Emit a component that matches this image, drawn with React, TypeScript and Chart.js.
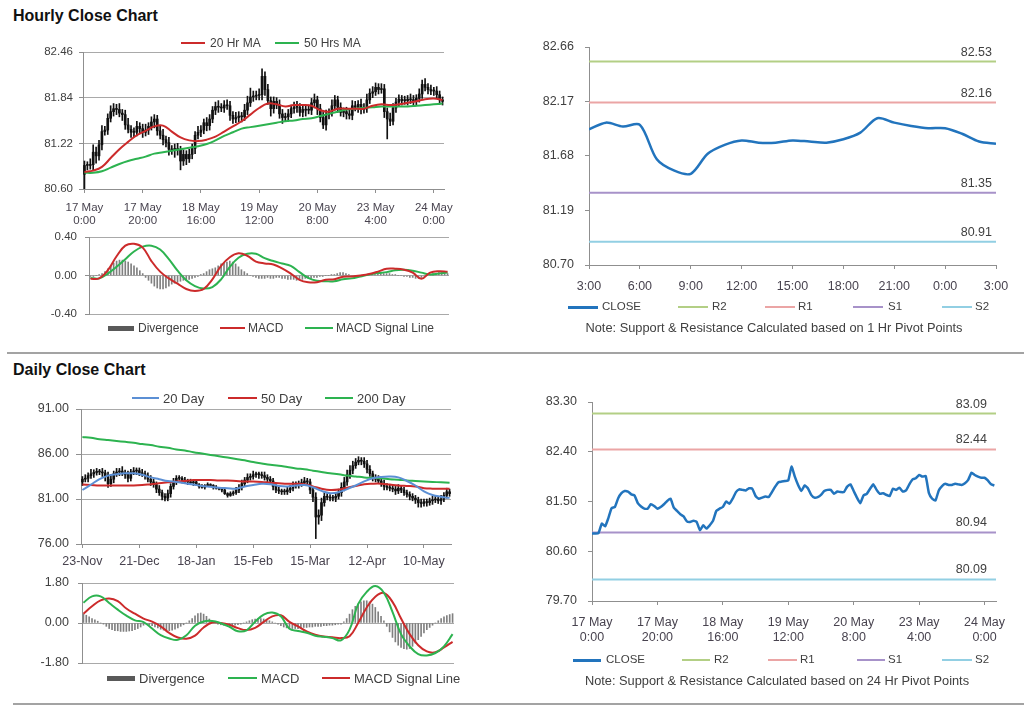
import React, { useEffect, useRef } from "react";
import { Chart, registerables } from "chart.js";

Chart.register(...registerables);

const FONT = "'Liberation Sans', Arial, Helvetica, sans-serif";
Chart.defaults.font.family = FONT;
Chart.defaults.color = "#404040";

// ================= DATA =================
// Hourly close (17 May 0:00 -> 24 May 3:00), one value per hour
const hourlyClose = [
  80.92, 80.92, 80.93, 81.10, 81.05, 81.20, 81.38, 81.40, 81.56, 81.65,
  81.69, 81.68, 81.63, 81.61, 81.47, 81.41, 81.37, 81.37, 81.45, 81.42,
  81.37, 81.40, 81.45, 81.51, 81.55, 81.39, 81.33, 81.27, 81.23, 81.14,
  81.13, 81.15, 81.13, 80.98, 81.07, 81.01, 81.07, 81.15, 81.33, 81.37,
  81.40, 81.50, 81.46, 81.55, 81.67, 81.72, 81.71, 81.70, 81.74, 81.73,
  81.60, 81.55, 81.57, 81.59, 81.58, 81.67, 81.77, 81.85, 81.86, 81.87,
  81.88, 82.13, 81.95, 81.80, 81.69, 81.79, 81.74, 81.62, 81.57, 81.58,
  81.62, 81.69, 81.71, 81.71, 81.64, 81.68, 81.67, 81.67, 81.77, 81.81,
  81.69, 81.57, 81.47, 81.61, 81.64, 81.73, 81.81, 81.71, 81.64, 81.65,
  81.62, 81.60, 81.73, 81.71, 81.75, 81.68, 81.70, 81.81, 81.90, 81.92,
  81.98, 81.95, 81.96, 81.65, 81.55, 81.52, 81.70, 81.78, 81.82, 81.80,
  81.80, 81.82, 81.81, 81.80, 81.83, 81.89, 82.02, 81.98, 81.95, 81.93,
  81.93, 81.88, 81.81, 81.79,
];
const hourlyFirstOpen = 80.80;
const hourlyUpperWick = [
  0.06, 0.05, 0.08, 0.10, 0.07, 0.06, 0.08, 0.05, 0.06, 0.08,
  0.07, 0.06, 0.08, 0.05, 0.06, 0.09, 0.05, 0.06, 0.07, 0.05,
  0.06, 0.08, 0.05, 0.07, 0.06, 0.05, 0.06, 0.08, 0.05, 0.07,
  0.05, 0.06, 0.07, 0.05, 0.06, 0.05, 0.07, 0.06, 0.05, 0.08,
  0.06, 0.05, 0.07, 0.06, 0.05, 0.06, 0.08, 0.05, 0.06, 0.07,
  0.06, 0.05, 0.07, 0.06, 0.05, 0.08, 0.09, 0.12, 0.07, 0.06,
  0.08, 0.10, 0.06, 0.07, 0.05, 0.06, 0.05, 0.07, 0.06, 0.05,
  0.06, 0.05, 0.07, 0.08, 0.05, 0.06, 0.05, 0.07, 0.06, 0.08,
  0.05, 0.06, 0.07, 0.06, 0.05, 0.08, 0.06, 0.05, 0.06, 0.05,
  0.06, 0.05, 0.07, 0.06, 0.05, 0.07, 0.06, 0.08, 0.06, 0.07,
  0.06, 0.05, 0.07, 0.06, 0.05, 0.08, 0.06, 0.05, 0.06, 0.05,
  0.06, 0.05, 0.07, 0.06, 0.05, 0.07, 0.06, 0.08, 0.05, 0.06,
  0.05, 0.06, 0.05, 0.04,
];
const hourlyLowerWick = [
  0.20, 0.06, 0.05, 0.08, 0.10, 0.06, 0.07, 0.05, 0.06, 0.05,
  0.06, 0.07, 0.05, 0.08, 0.06, 0.05, 0.07, 0.06, 0.05, 0.06,
  0.07, 0.05, 0.06, 0.05, 0.08, 0.06, 0.05, 0.07, 0.06, 0.08,
  0.06, 0.10, 0.07, 0.12, 0.06, 0.08, 0.05, 0.06, 0.07, 0.05,
  0.06, 0.05, 0.07, 0.06, 0.05, 0.06, 0.07, 0.05, 0.06, 0.05,
  0.07, 0.06, 0.05, 0.06, 0.07, 0.05, 0.06, 0.05, 0.06, 0.05,
  0.06, 0.07, 0.08, 0.05, 0.10, 0.06, 0.05, 0.06, 0.08, 0.05,
  0.06, 0.05, 0.06, 0.07, 0.05, 0.06, 0.08, 0.05, 0.06, 0.07,
  0.08, 0.06, 0.05, 0.07, 0.06, 0.05, 0.06, 0.07, 0.05, 0.06,
  0.07, 0.05, 0.06, 0.05, 0.07, 0.06, 0.05, 0.06, 0.05, 0.06,
  0.05, 0.06, 0.05, 0.08, 0.27, 0.06, 0.05, 0.06, 0.05, 0.06,
  0.05, 0.06, 0.05, 0.06, 0.07, 0.05, 0.06, 0.05, 0.06, 0.05,
  0.06, 0.05, 0.06, 0.05,
];
const hourlyTickIndex = [0, 20, 40, 60, 80, 100, 120];
const hourlyTickLabels = [
  ["17 May", "0:00"], ["17 May", "20:00"], ["18 May", "16:00"], ["19 May", "12:00"],
  ["20 May", "8:00"], ["23 May", "4:00"], ["24 May", "0:00"],
];
const hourlyPriceTicks = [80.60, 81.22, 81.84, 82.46];
// moving averages, read every 3rd hour
const HOURLY_STEP = 3;
const hourlyMA20 = [
  80.83, 80.85, 80.90, 81.02, 81.14, 81.24, 81.33, 81.39, 81.45, 81.46,
  81.38, 81.30, 81.26, 81.25, 81.27, 81.31, 81.38, 81.45, 81.52, 81.61,
  81.70, 81.76, 81.75, 81.72, 81.74, 81.74, 81.73, 81.67, 81.65, 81.69,
  81.69, 81.69, 81.69, 81.73, 81.75, 81.74, 81.75, 81.77, 81.79, 81.82,
  81.83, 81.81,
];
const hourlyMA50 = [
  80.82, 80.82, 80.84, 80.89, 80.94, 80.98, 81.01, 81.04, 81.08, 81.10,
  81.12, 81.14, 81.16, 81.18, 81.21, 81.26, 81.32, 81.37, 81.42, 81.44,
  81.46, 81.48, 81.50, 81.52, 81.53, 81.55, 81.56, 81.59, 81.62, 81.65,
  81.68, 81.69, 81.70, 81.71, 81.72, 81.72, 81.72, 81.72, 81.73, 81.74,
  81.75, 81.76,
];
const hourlyMacd = [
  -0.035, -0.03, 0.055, 0.20, 0.31, 0.33, 0.29, 0.15, 0.04, -0.03,
  -0.085, -0.14, -0.16, -0.14, -0.04, 0.10, 0.19, 0.23, 0.205, 0.145,
  0.125, 0.115, 0.075, 0.02, -0.045, -0.07, -0.07, -0.045, -0.04, -0.013,
  -0.01, 0.00, 0.015, 0.04, 0.07, 0.07, 0.06, 0.03, -0.035, 0.03,
  0.045, 0.04,
];
const hourlySignal = [
  -0.025, -0.03, 0.02, 0.09, 0.17, 0.25, 0.30, 0.31, 0.27, 0.17,
  0.05, -0.05, -0.11, -0.135, -0.12, -0.04, 0.09, 0.185, 0.225, 0.225,
  0.18, 0.15, 0.125, 0.10, 0.035, -0.025, -0.055, -0.06, -0.06, -0.04,
  -0.03, -0.01, 0.01, 0.025, 0.035, 0.055, 0.06, 0.05, 0.03, 0.01,
  0.02, 0.03,
];
const hourlyDivergence = [
  -0.01, -0.01, 0.00, 0.01, 0.02, 0.04, 0.07, 0.10, 0.13, 0.15,
  0.16, 0.16, 0.15, 0.14, 0.12, 0.10, 0.08, 0.05, 0.02, -0.02,
  -0.05, -0.08, -0.11, -0.13, -0.14, -0.14, -0.13, -0.11, -0.09, -0.08,
  -0.07, -0.06, -0.05, -0.05, -0.04, -0.03, -0.02, -0.01, 0.01, 0.02,
  0.04, 0.06, 0.07, 0.08, 0.10, 0.12, 0.13, 0.14, 0.15, 0.14,
  0.12, 0.09, 0.06, 0.04, 0.02, 0.00, -0.01, -0.02, -0.03, -0.03,
  -0.03, -0.02, -0.03, -0.03, -0.02, -0.02, -0.03, -0.03, -0.04, -0.04,
  -0.04, -0.05, -0.04, -0.04, -0.03, -0.03, -0.03, -0.02, -0.02, -0.01,
  -0.01, 0.00, 0.00, 0.01, 0.01, 0.02, 0.03, 0.03, 0.02, 0.01,
  -0.01, -0.02, -0.02, -0.01, 0.00, 0.00, 0.01, 0.01, 0.01, 0.02,
  0.02, 0.02, 0.02, 0.02, 0.01, 0.01, 0.00, 0.00, -0.01, -0.01,
  -0.02, -0.02, -0.03, -0.03, -0.02, -0.01, 0.00, 0.01, 0.02, 0.02,
  0.03, 0.03, 0.02, 0.02,
];
const hourlyMacdTicks = [-0.4, 0, 0.4];

// Hourly pivot panel (last 24 hours, 3:00 -> 3:00)
const pivotHourClose = [
  81.92, 81.98, 81.945, 81.96, 81.65, 81.55, 81.52, 81.70, 81.78, 81.82,
  81.80, 81.80, 81.82, 81.81, 81.80, 81.83, 81.89, 82.02, 81.98, 81.95,
  81.93, 81.93, 81.88, 81.81, 81.79,
];
const pivotHourTickIndex = [0, 3, 6, 9, 12, 15, 18, 21, 24];
const pivotHourLabels = ["3:00", "6:00", "9:00", "12:00", "15:00", "18:00", "21:00", "0:00", "3:00"];
const pivotHourYTicks = [80.70, 81.19, 81.68, 82.17, 82.66];
const pivotNames = ["R2", "R1", "S1", "S2"];
const hourlyPivotLevels = [82.53, 82.16, 81.35, 80.91];

// Daily candles (23-Nov -> 24-May), one value per trading day
const dailyClose = [
  83.2, 83.3, 83.6, 83.8, 83.95, 84.0, 84.0, 83.9, 83.5, 82.7,
  83.2, 83.8, 84.0, 84.1, 83.9, 83.7, 83.3, 84.0, 84.1, 84.15,
  83.9, 83.8, 83.6, 83.2, 82.9, 82.6, 82.1, 81.7, 81.3, 81.1,
  81.6, 82.4, 82.9, 83.3, 83.3, 83.1, 83.0, 82.9, 82.8, 82.9,
  82.6, 82.4, 82.3, 82.5, 82.6, 82.5, 82.3, 82.2, 82.1, 82.0,
  81.6, 81.4, 81.6, 81.7, 82.0, 82.3, 82.7, 83.1, 83.4, 83.5,
  83.7, 83.7, 83.7, 83.6, 83.4, 83.2, 83.0, 82.4, 82.0, 81.9,
  81.8, 81.8, 82.0, 82.2, 82.5, 82.6, 82.7, 82.8, 83.0, 82.9,
  82.0, 81.2, 79.0, 79.2, 80.6, 81.3, 81.2, 81.1, 81.1, 81.3,
  81.7, 82.3, 82.9, 83.7, 84.2, 84.7, 85.1, 85.3, 85.2, 84.9,
  84.3, 83.8, 83.4, 83.2, 83.0, 82.7, 82.4, 82.3, 82.2, 82.1,
  81.9, 82.2, 82.0, 81.7, 81.5, 81.3, 81.1, 80.9, 80.6, 80.5,
  80.7, 80.6, 80.8, 80.9, 81.0, 80.8, 81.0, 81.4, 81.8, 81.6,
];
const dailyFirstOpen = 82.9;
const dailyUpperWick = [
  0.3, 0.4, 0.3, 0.5, 0.3, 0.4, 0.3, 0.4, 0.3, 0.5,
  0.4, 0.3, 0.4, 0.3, 0.5, 0.3, 0.4, 0.3, 0.4, 0.3,
  0.3, 0.4, 0.3, 0.3, 0.4, 0.3, 0.3, 0.4, 0.3, 0.3,
  0.4, 0.3, 0.4, 0.3, 0.3, 0.2, 0.3, 0.2, 0.3, 0.2,
  0.2, 0.1, 0.2, 0.1, 0.2, 0.1, 0.1, 0.2, 0.1, 0.1,
  0.2, 0.1, 0.2, 0.2, 0.3, 0.3, 0.4, 0.3, 0.4, 0.3,
  0.4, 0.3, 0.3, 0.3, 0.4, 0.3, 0.3, 0.3, 0.2, 0.3,
  0.2, 0.3, 0.3, 0.3, 0.4, 0.3, 0.3, 0.4, 0.4, 0.3,
  0.3, 0.4, 0.5, 0.6, 0.5, 0.4, 0.3, 0.3, 0.3, 0.4,
  0.4, 0.5, 0.5, 0.5, 0.5, 0.5, 0.4, 0.4, 0.3, 0.4,
  0.4, 0.4, 0.3, 0.3, 0.4, 0.3, 0.4, 0.3, 0.3, 0.4,
  0.3, 0.4, 0.3, 0.3, 0.3, 0.3, 0.3, 0.3, 0.3, 0.4,
  0.3, 0.3, 0.3, 0.4, 0.3, 0.3, 0.4, 0.3, 0.4, 0.3,
];
const dailyLowerWick = [
  0.4, 0.3, 0.4, 0.3, 0.4, 0.3, 0.3, 0.4, 0.5, 0.4,
  0.3, 0.4, 0.3, 0.4, 0.3, 0.4, 0.4, 0.3, 0.3, 0.4,
  0.3, 0.3, 0.4, 0.3, 0.4, 0.3, 0.4, 0.3, 0.4, 0.3,
  0.3, 0.4, 0.3, 0.3, 0.2, 0.3, 0.2, 0.3, 0.2, 0.3,
  0.1, 0.2, 0.1, 0.2, 0.1, 0.1, 0.2, 0.1, 0.1, 0.2,
  0.1, 0.2, 0.1, 0.2, 0.2, 0.3, 0.3, 0.3, 0.3, 0.3,
  0.3, 0.3, 0.4, 0.3, 0.3, 0.3, 0.3, 0.4, 0.3, 0.3,
  0.3, 0.3, 0.3, 0.3, 0.3, 0.3, 0.4, 0.3, 0.3, 0.3,
  0.4, 0.5, 2.4, 0.8, 0.6, 0.4, 0.3, 0.3, 0.3, 0.4,
  0.3, 0.4, 0.4, 0.4, 0.4, 0.4, 0.3, 0.3, 0.4, 0.4,
  0.4, 0.3, 0.4, 0.3, 0.3, 0.3, 0.4, 0.3, 0.3, 0.3,
  0.4, 0.3, 0.3, 0.3, 0.3, 0.4, 0.3, 0.4, 0.5, 0.4,
  0.3, 0.4, 0.3, 0.4, 0.3, 0.3, 0.4, 0.3, 0.3, 0.3,
];
const dailyTickIndex = [0, 20, 40, 60, 80, 100, 120];
const dailyTickLabels = ["23-Nov", "21-Dec", "18-Jan", "15-Feb", "15-Mar", "12-Apr", "10-May"];
const dailyPriceTicks = [76, 81, 86, 91];
const DAILY_STEP = 3;
const dailyMA20 = [
  82.0, 82.6, 83.2, 83.6, 83.75, 83.85, 83.85, 83.7, 83.4, 83.2,
  83.0, 82.9, 82.75, 82.6, 82.45, 82.35, 82.25, 82.2, 82.15, 82.4,
  82.55, 82.7, 82.65, 82.45, 82.4, 82.5, 82.55, 82.3, 81.9, 81.65,
  81.75, 82.1, 82.5, 82.95, 83.3, 83.45, 83.5, 83.4, 83.0, 82.5,
  81.85, 81.45, 81.25, 81.1,
];
const dailyMA50 = [
  82.6, 82.55, 82.5, 82.5, 82.5, 82.5, 82.5, 82.55, 82.65, 82.75,
  82.85, 82.95, 83.0, 83.1, 83.1, 83.1, 83.05, 83.05, 83.0, 82.95,
  82.95, 82.9, 82.8, 82.75, 82.7, 82.7, 82.65, 82.4, 82.15, 82.0,
  82.05, 82.25, 82.45, 82.65, 82.7, 82.7, 82.6, 82.5, 82.45, 82.4,
  82.2, 82.15, 82.15, 82.15,
];
const dailyMA200 = [
  87.9, 87.8, 87.65, 87.55, 87.45, 87.35, 87.25, 87.1, 87.0, 86.8,
  86.7, 86.5, 86.4, 86.2, 86.05, 85.9, 85.75, 85.6, 85.45, 85.3,
  85.1, 84.95, 84.8, 84.7, 84.55, 84.4, 84.3, 84.15, 84.0, 83.85,
  83.75, 83.6, 83.5, 83.4, 83.35, 83.3, 83.2, 83.15, 83.05, 83.0,
  82.95, 82.9, 82.85, 82.8,
];
const dailyMacd = [
  0.91, 1.2, 1.2, 0.9, 0.6, 0.33, 0.12, 0.04, -0.25, -0.55,
  -0.7, -0.76, -0.55, -0.12, 0.07, 0.09, -0.01, -0.17, -0.37, -0.33,
  0.06, 0.38, 0.47, 0.3, -0.26, -0.36, -0.44, -0.57, -0.62, -0.68,
  -0.78, -0.3, 0.85, 1.4, 1.66, 1.36, 0.5, -0.5, -1.05, -1.4,
  -1.46, -1.35, -1.05, -0.5,
];
const dailySignal = [
  0.42, 0.75, 1.02, 1.1, 0.98, 0.65, 0.42, 0.2, 0.06, -0.15,
  -0.45, -0.65, -0.71, -0.57, -0.2, 0.02, 0.0, -0.08, -0.23, -0.32,
  -0.22, 0.05, 0.3, 0.35, 0.05, -0.15, -0.38, -0.53, -0.61, -0.64,
  -0.68, -0.6, 0.0, 0.7, 1.18, 1.35, 0.95, 0.2, -0.5, -1.0,
  -1.28, -1.32, -1.1, -0.85,
];
const dailyDivergence = [
  0.40, 0.35, 0.28, 0.20, 0.14, 0.08, 0.00, -0.05,
  -0.15, -0.25, -0.30, -0.35, -0.35, -0.38, -0.38, -0.38, -0.36, -0.34, -0.30, -0.25, -0.18,
  -0.10, -0.05, -0.08, -0.12,
  -0.18, -0.22, -0.28, -0.32, -0.35, -0.35, -0.32, -0.28, -0.22, -0.15,
  -0.08, 0.00, 0.10,
  0.20, 0.32, 0.42, 0.45, 0.40, 0.30, 0.18,
  0.08, 0.00, -0.05,
  -0.08, -0.10, -0.12, -0.12, -0.12, -0.10, -0.08, -0.05, 0.00, 0.05,
  0.10, 0.15, 0.18, 0.20, 0.20, 0.18, 0.15, 0.10, 0.05, 0.00, -0.05,
  -0.12, -0.18, -0.22, -0.25, -0.25, -0.25, -0.25, -0.22, -0.20, -0.20, -0.18,
  -0.18, -0.15, -0.15, -0.15, -0.12, -0.12, -0.10, -0.10, -0.08, -0.05, -0.05,
  0.05, 0.20, 0.40, 0.60, 0.75, 0.85, 0.95, 1.00, 1.00, 0.95, 0.85, 0.70, 0.50, 0.30, 0.10,
  -0.15, -0.40, -0.65, -0.85, -1.00, -1.10, -1.15, -1.18, -1.15, -1.05, -0.90, -0.75, -0.60,
  -0.45, -0.30, -0.20, -0.10, 0.00,
  0.10, 0.20, 0.28, 0.33, 0.38, 0.42,
];
const dailyMacdTicks = [-1.8, 0, 1.8];

// Daily pivot panel uses the hourly closes
const pivotDayYTicks = [79.70, 80.60, 81.50, 82.40, 83.30];
const dailyPivotLevels = [83.09, 82.44, 80.94, 80.09];

// ================= STYLE =================
const GRID = "#a9a9a9";
const AXIS = "#8f8f8f";
const TEXT = "#404040";
const RED = "#cc2b2b";
const GREEN = "#2db350";
const BLUE_MA = "#5b8fd4";
const CLOSE_BLUE = "#2274bd";
const PIVOT_COLORS = ["#b3cf85", "#eba5a5", "#a792c9", "#92cfe3"];
const DIV_GRAY = "#808080";

type Frame = { left: number; top: number; width: number; height: number; yw: number; pt: number; pr: number; pb: number; xh: number };
function mkFrame(L: number, T: number, R: number, B: number, yw: number, pt: number, pr: number, xh: number, pb = 0): Frame {
  return { left: L - yw, top: T - pt, width: R - L + yw + pr, height: B - T + pt + xh + pb, yw, pt, pr, pb, xh };
}

const fixedTicks = (values: number[]) => (scale: any) => {
  scale.ticks = values.map((v) => ({ value: v }));
};

function yScale(f: Frame, ticks: number[], size: number, tickLength: number, padding: number, gridOn: boolean) {
  return {
    type: "linear",
    position: "left",
    min: ticks[0],
    max: ticks[ticks.length - 1],
    afterBuildTicks: fixedTicks(ticks),
    afterFit: (s: any) => { s.width = f.yw; },
    ticks: {
      autoSkip: false,
      padding,
      color: TEXT,
      font: { size, family: FONT },
      callback: (v: any) => Number(v).toFixed(2),
    },
    grid: { display: true, drawOnChartArea: gridOn, color: GRID, lineWidth: 1, drawTicks: true, tickLength, tickColor: AXIS },
    border: { display: true, color: AXIS, width: 1 },
  };
}

function xScale(f: Frame, min: number, max: number, tickIdx: number[], labels: any[], size: number, padding: number, lineHeight: number) {
  return {
    type: "linear",
    position: "bottom",
    min,
    max,
    offset: false,
    afterBuildTicks: fixedTicks(tickIdx),
    afterFit: (s: any) => { s.height = f.xh; },
    ticks: {
      autoSkip: false,
      maxRotation: 0,
      minRotation: 0,
      padding,
      color: "#48434f",
      font: { size, family: FONT, lineHeight },
      callback: (_v: any, i: number) => labels[i],
    },
    grid: { display: true, drawOnChartArea: false, drawTicks: true, tickLength: 4, tickColor: AXIS, offset: false },
    border: { display: true, color: AXIS, width: 1 },
  };
}

const hiddenX = (min: number, max: number) => ({ type: "linear", display: false, min, max, offset: false, grid: { offset: false } });

function baseOptions(f: Frame, scales: any, extraPlugins: any = {}) {
  return {
    responsive: false,
    maintainAspectRatio: false,
    animation: false,
    events: [],
    layout: { padding: { left: 0, top: f.pt, right: f.pr, bottom: f.pb } },
    plugins: { legend: { display: false }, tooltip: { enabled: false }, title: { display: false }, ...extraPlugins },
    scales,
  };
}

const stepped = (values: number[], step: number) => values.map((v, k) => ({ x: k * step, y: v }));
const lineDs = (data: any[], color: string, width = 2, tension = 0.4) => ({
  type: "line", data, borderColor: color, borderWidth: width, pointRadius: 0, fill: false, tension, order: 0,
});

function candleDatasets(close: number[], firstOpen: number, up: number[], low: number[]) {
  const opens = close.map((_c, i) => (i === 0 ? firstOpen : close[i - 1]));
  const wick = close.map((c, i) => ({
    x: i,
    y: [Math.min(opens[i], c) - low[i], Math.max(opens[i], c) + up[i]],
  }));
  const body = close.map((c, i) => ({ x: i, y: [opens[i], c] }));
  return [
    { type: "bar", data: wick, backgroundColor: "#111", barThickness: 1, grouped: false, order: 2 },
    { type: "bar", data: body, backgroundColor: "#111", barThickness: 2, grouped: false, minBarLength: 1, order: 1 },
  ];
}

const pivotLabelPlugin = {
  id: "pivotLabels",
  afterDatasetsDraw(chart: any, _args: any, opts: any) {
    if (!opts || !opts.values) return;
    const { ctx, chartArea } = chart;
    const ys = chart.scales.y;
    ctx.save();
    ctx.font = `${opts.size}px ${FONT}`;
    ctx.fillStyle = TEXT;
    ctx.textAlign = "right";
    ctx.textBaseline = "middle";
    for (const v of opts.values) {
      ctx.fillText(Number(v).toFixed(2), chartArea.right - opts.inset, ys.getPixelForValue(v) - opts.lift);
    }
    ctx.restore();
  },
};

// ================= FRAMES =================
const FA = mkFrame(83, 52, 444, 189, 45, 14, 20, 42);
const FB = mkFrame(89, 237, 449, 314, 50, 16, 6, 0, 16);
const FC = mkFrame(589, 47, 996, 265, 60, 20, 26, 32);
const FD = mkFrame(81, 409, 451, 544, 50, 16, 12, 30);
const FE = mkFrame(82, 583, 454, 663, 55, 18, 6, 0, 18);
const FF = mkFrame(592, 402, 996, 601, 60, 20, 22, 48);

const NH = hourlyClose.length;
const ND = dailyClose.length;

function configA() {
  return {
    type: "bar",
    data: {
      datasets: [
        lineDs(stepped(hourlyMA20, HOURLY_STEP), RED),
        lineDs(stepped(hourlyMA50, HOURLY_STEP), GREEN),
        ...candleDatasets(hourlyClose, hourlyFirstOpen, hourlyUpperWick, hourlyLowerWick),
      ],
    },
    options: baseOptions(FA, {
      x: xScale(FA, -0.5, NH - 0.5, hourlyTickIndex, hourlyTickLabels, 11.5, 9, 1.1),
      y: yScale(FA, hourlyPriceTicks, 11.5, 4, 6, true),
    }),
  };
}

function configB() {
  return {
    type: "bar",
    data: {
      datasets: [
        lineDs(stepped(hourlyMacd, HOURLY_STEP), RED),
        lineDs(stepped(hourlySignal, HOURLY_STEP), GREEN),
        { type: "bar", data: hourlyDivergence.map((v, i) => ({ x: i, y: v })), backgroundColor: DIV_GRAY, barThickness: 1, order: 1 },
      ],
    },
    options: baseOptions(FB, {
      x: hiddenX(-0.5, NH - 0.5),
      y: yScale(FB, hourlyMacdTicks, 11.5, 4, 8, true),
    }),
  };
}

function configC() {
  const last = pivotHourClose.length - 1;
  return {
    type: "line",
    data: {
      datasets: [
        lineDs(pivotHourClose.map((v, i) => ({ x: i, y: v })), CLOSE_BLUE, 2.5, 0.3),
        ...hourlyPivotLevels.map((lv, k) => ({
          ...lineDs([{ x: 0, y: lv }, { x: last, y: lv }], PIVOT_COLORS[k], 2, 0),
          label: pivotNames[k],
        })),
      ],
    },
    plugins: [pivotLabelPlugin],
    options: baseOptions(
      FC,
      {
        x: xScale(FC, 0, last, pivotHourTickIndex, pivotHourLabels, 12.5, 10, 1.2),
        y: yScale(FC, pivotHourYTicks, 12.5, 4, 11, false),
      },
      { pivotLabels: { values: hourlyPivotLevels, inset: 4, lift: 9, size: 12.5 } }
    ),
  };
}

function configD() {
  return {
    type: "bar",
    data: {
      datasets: [
        lineDs(stepped(dailyMA20, DAILY_STEP), BLUE_MA),
        lineDs(stepped(dailyMA50, DAILY_STEP), RED),
        lineDs(stepped(dailyMA200, DAILY_STEP), GREEN),
        ...candleDatasets(dailyClose, dailyFirstOpen, dailyUpperWick, dailyLowerWick),
      ],
    },
    options: baseOptions(FD, {
      x: xScale(FD, -0.5, ND - 0.5, dailyTickIndex, dailyTickLabels, 12.5, 6, 1.2),
      y: yScale(FD, dailyPriceTicks, 12.5, 5, 7, true),
    }),
  };
}

function configE() {
  return {
    type: "bar",
    data: {
      datasets: [
        lineDs(stepped(dailyMacd, DAILY_STEP), GREEN),
        lineDs(stepped(dailySignal, DAILY_STEP), RED),
        { type: "bar", data: dailyDivergence.map((v, i) => ({ x: i, y: v })), backgroundColor: DIV_GRAY, barThickness: 1, order: 1 },
      ],
    },
    options: baseOptions(FE, {
      x: hiddenX(-0.5, ND - 0.5),
      y: yScale(FE, dailyMacdTicks, 12.5, 4, 9, true),
    }),
  };
}

function configF() {
  const xmax = NH - 0.5;
  return {
    type: "line",
    data: {
      datasets: [
        lineDs(hourlyClose.map((v, i) => ({ x: i, y: v })), CLOSE_BLUE, 2.5, 0.15),
        ...dailyPivotLevels.map((lv, k) => ({
          ...lineDs([{ x: 0, y: lv }, { x: xmax, y: lv }], PIVOT_COLORS[k], 2, 0),
          label: pivotNames[k],
        })),
      ],
    },
    plugins: [pivotLabelPlugin],
    options: baseOptions(
      FF,
      {
        x: xScale(FF, 0, xmax, hourlyTickIndex, hourlyTickLabels, 12.5, 10, 1.2),
        y: yScale(FF, pivotDayYTicks, 12.5, 4, 11, false),
      },
      { pivotLabels: { values: dailyPivotLevels, inset: 9, lift: 9.5, size: 12.5 } }
    ),
  };
}

// ================= COMPONENTS =================
function ChartBox({ frame, build }: { frame: Frame; build: () => any }) {
  const ref = useRef<HTMLCanvasElement | null>(null);
  useEffect(() => {
    const chart = new Chart(ref.current as HTMLCanvasElement, build() as any);
    return () => chart.destroy();
  }, []);
  return (
    <canvas
      ref={ref}
      width={frame.width}
      height={frame.height}
      style={{ position: "absolute", left: frame.left, top: frame.top, width: frame.width, height: frame.height }}
    />
  );
}

function Swatch({ x1, x2, y, color, h = 2 }: { x1: number; x2: number; y: number; color: string; h?: number }) {
  return <div style={{ position: "absolute", left: x1, top: y - h / 2, width: x2 - x1, height: h, background: color }} />;
}

function Txt({ x, y, text, size, bold = false, color = TEXT, center = false }: any) {
  return (
    <div
      style={{
        position: "absolute",
        left: x,
        top: y,
        transform: center ? "translate(-50%, -50%)" : "translateY(-50%)",
        fontSize: size,
        fontWeight: bold ? "bold" : "normal",
        lineHeight: 1,
        whiteSpace: "nowrap",
        color,
        fontFamily: FONT,
      }}
    >
      {text}
    </div>
  );
}

function PivotLegend({ y, items }: { y: number; items: [number, number, number, string, string, number][] }) {
  return (
    <>
      {items.map(([a, b, t, label, color, h], k) => (
        <React.Fragment key={k}>
          <Swatch x1={a} x2={b} y={y} color={color} h={h} />
          <Txt x={t} y={y} text={label} size={11.5} />
        </React.Fragment>
      ))}
    </>
  );
}

export default function App() {
  return (
    <div style={{ position: "absolute", left: 0, top: 0, width: 1024, height: 706, background: "#fff", overflow: "hidden" }}>
      <Txt x={13} y={16} text="Hourly Close Chart" size={16} bold color="#111" />
      <Txt x={13} y={370} text="Daily Close Chart" size={16} bold color="#111" />

      <ChartBox frame={FA} build={configA} />
      <ChartBox frame={FB} build={configB} />
      <ChartBox frame={FC} build={configC} />
      <ChartBox frame={FD} build={configD} />
      <ChartBox frame={FE} build={configE} />
      <ChartBox frame={FF} build={configF} />

      {/* Hourly candle legend */}
      <Swatch x1={181} x2={205} y={43} color={RED} />
      <Txt x={210} y={43} text="20 Hr MA" size={12} />
      <Swatch x1={275} x2={299} y={43} color={GREEN} />
      <Txt x={304} y={43} text="50 Hrs MA" size={12} />

      {/* Hourly MACD legend */}
      <Swatch x1={108} x2={134} y={328} color="#595959" h={5} />
      <Txt x={138} y={328} text="Divergence" size={12} />
      <Swatch x1={220} x2={245} y={328} color={RED} />
      <Txt x={248} y={328} text="MACD" size={12} />
      <Swatch x1={305} x2={333} y={328} color={GREEN} />
      <Txt x={336} y={328} text="MACD Signal Line" size={12} />

      {/* Hourly pivot legend */}
      <PivotLegend
        y={307}
        items={[
          [568, 598, 602, "CLOSE", CLOSE_BLUE, 3],
          [678, 708, 712, "R2", PIVOT_COLORS[0], 1.5],
          [765, 795, 798, "R1", PIVOT_COLORS[1], 1.5],
          [853, 883, 888, "S1", PIVOT_COLORS[2], 1.5],
          [942, 972, 975, "S2", PIVOT_COLORS[3], 1.5],
        ]}
      />
      <Txt x={774} y={328} text="Note: Support & Resistance Calculated based on 1 Hr Pivot Points" size={12.8} center />

      <div style={{ position: "absolute", left: 7, top: 352, width: 1017, height: 2, background: "#a3a3a3" }} />

      {/* Daily candle legend */}
      <Swatch x1={132} x2={159} y={398} color={BLUE_MA} />
      <Txt x={163} y={398} text="20 Day" size={13} />
      <Swatch x1={228} x2={257} y={398} color={RED} />
      <Txt x={261} y={398} text="50 Day" size={13} />
      <Swatch x1={325} x2={353} y={398} color={GREEN} />
      <Txt x={357} y={398} text="200 Day" size={13} />

      {/* Daily MACD legend */}
      <Swatch x1={107} x2={135} y={678} color="#595959" h={5} />
      <Txt x={139} y={678} text="Divergence" size={13} />
      <Swatch x1={228} x2={257} y={678} color={GREEN} />
      <Txt x={261} y={678} text="MACD" size={13} />
      <Swatch x1={322} x2={350} y={678} color={RED} />
      <Txt x={354} y={678} text="MACD Signal Line" size={13} />

      {/* Daily pivot legend */}
      <PivotLegend
        y={660}
        items={[
          [573, 601, 606, "CLOSE", CLOSE_BLUE, 3],
          [682, 710, 714, "R2", PIVOT_COLORS[0], 1.5],
          [768, 797, 800, "R1", PIVOT_COLORS[1], 1.5],
          [857, 885, 888, "S1", PIVOT_COLORS[2], 1.5],
          [942, 972, 975, "S2", PIVOT_COLORS[3], 1.5],
        ]}
      />
      <Txt x={777} y={681} text="Note: Support & Resistance Calculated based on 24 Hr Pivot Points" size={12.8} center />

      <div style={{ position: "absolute", left: 13, top: 703, width: 1011, height: 2, background: "#a3a3a3" }} />
    </div>
  );
}
